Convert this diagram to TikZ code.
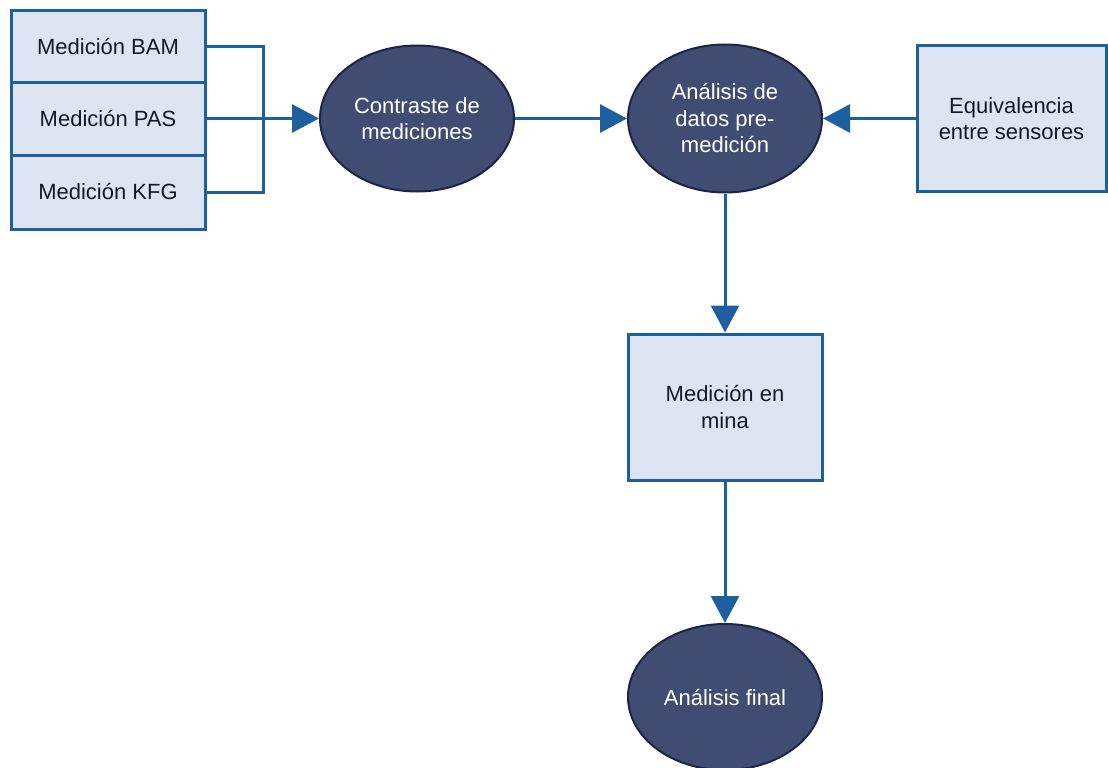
\documentclass[tikz,border=0pt]{standalone}
\usepackage{fontspec}
\setmainfont{Liberation Sans}
\usetikzlibrary{shapes.geometric,arrows.meta}
\definecolor{lineblue}{HTML}{1E5FA0}
\definecolor{boxfill}{HTML}{DCE5F1}
\definecolor{ellfill}{HTML}{414C73}
\definecolor{ellborder}{HTML}{1B2545}
\definecolor{boxtext}{HTML}{161A26}
\begin{document}
\begin{tikzpicture}[x=1pt,y=-1pt,
  font=\fontsize{22}{26.5}\selectfont,
  rbox/.style={draw=lineblue,line width=3pt,fill=boxfill,text=boxtext,align=center,inner sep=0pt},
  oval/.style={ellipse,draw=ellborder,line width=2pt,fill=ellfill,text=white,align=center,inner sep=0pt,minimum width=194pt,minimum height=146pt},
  conn/.style={draw=lineblue,line width=3pt},
  arr/.style={conn,-{Triangle[length=27pt,width=28pt]}}]
\useasboundingbox (0,0) rectangle (1108,768);
\fill[white] (0,0) rectangle (1108,768);
\node[rbox,minimum width=194pt,minimum height=71pt] (bam) at (108,46.5) {Medición BAM};
\node[rbox,minimum width=194pt,minimum height=73pt] (pas) at (108,118.5) {Medición PAS};
\node[rbox,minimum width=194pt,minimum height=74pt] (kfg) at (108,192) {Medición KFG};
\node[oval] (c1) at (417,118.5) {Contraste de\\mediciones};
\node[oval,minimum height=148pt] (c2) at (725,118.5) {Análisis de\\datos pre-\\medición};
\node[rbox,minimum width=189pt,minimum height=145pt] (eq) at (1011.5,118.5) {Equivalencia\\entre sensores};
\node[rbox,minimum width=194pt,minimum height=146pt] (mina) at (725,407) {Medición en\\mina};
\node[oval] (fin) at (725,697) {Análisis final};
\draw[conn] (bam.east) -- ++(57,0) |- (kfg.east);
\draw[arr] (pas.east) -- (c1.west);
\draw[arr] (c1.east) -- (c2.west);
\draw[arr] (eq.west) -- (c2.east);
\draw[arr] (c2.south) -- (mina.north);
\draw[arr] (mina.south) -- (fin.north);
\end{tikzpicture}
\end{document}
